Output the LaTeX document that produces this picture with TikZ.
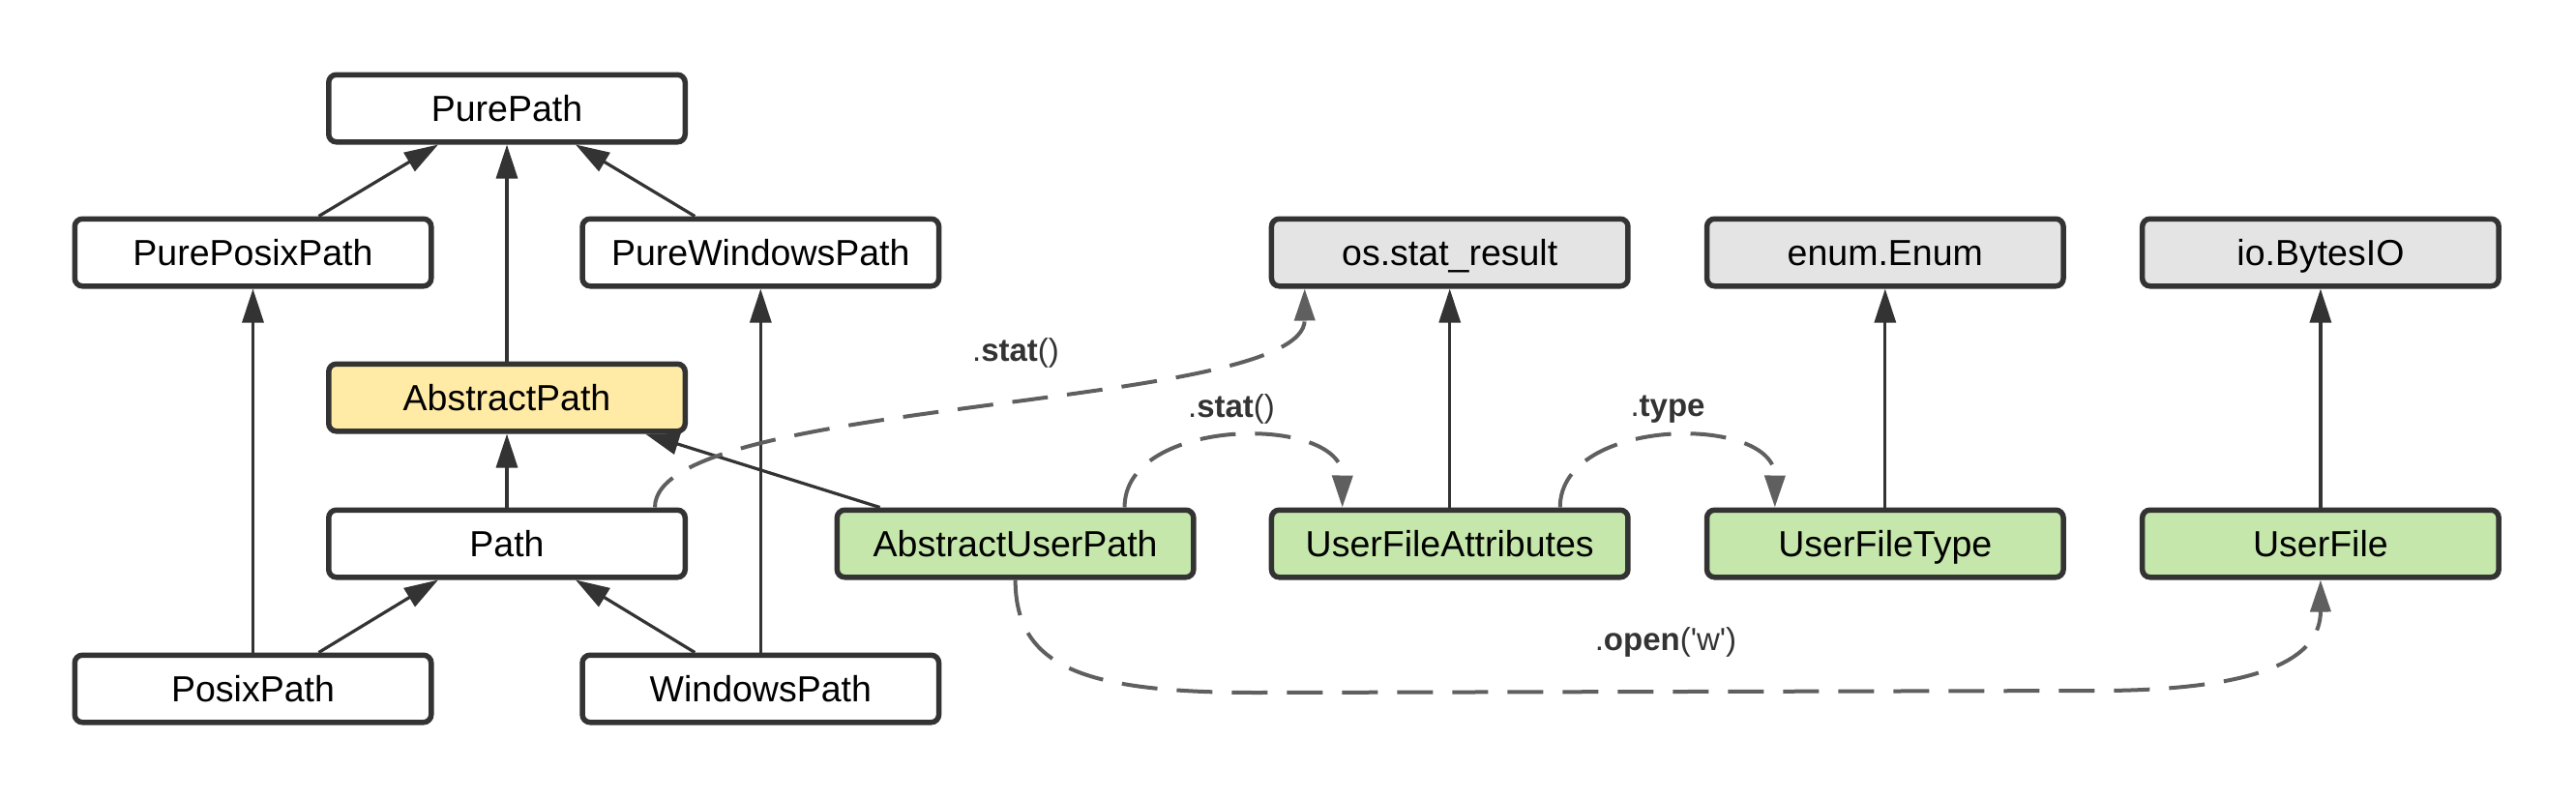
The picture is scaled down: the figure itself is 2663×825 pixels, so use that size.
\documentclass[tikz,border=0pt]{standalone}
\usepackage{fontspec}
\setmainfont{Liberation Sans}
\usetikzlibrary{arrows.meta}
\definecolor{strokec}{HTML}{333333}
\definecolor{absfill}{HTML}{FFEBA6}
\definecolor{userfill}{HTML}{C5E7AB}
\definecolor{extfill}{HTML}{E4E4E4}
\definecolor{dashc}{HTML}{5F5F5F}
\definecolor{labelc}{HTML}{333333}
\begin{document}
\begin{tikzpicture}[x=1pt,y=-1pt,
  box/.style={draw=strokec, line width=5.5pt, rounded corners=8pt,
    minimum width=368.5pt, minimum height=69.5pt, inner sep=0pt,
    text height=26.8pt, text depth=0pt,
    font=\fontsize{37.5}{44}\selectfont, text=black},
  plainbox/.style={box, fill=white},
  absbox/.style={box, fill=absfill},
  userbox/.style={box, fill=userfill},
  extbox/.style={box, fill=extfill},
  inh/.style={draw=strokec, line width=3.2pt, -{Triangle[length=35pt,width=22pt]}},
  uses/.style={draw=dashc, line width=4pt, dash pattern=on 37pt off 20pt,
    -{Triangle[length=33pt,width=21pt]}},
  lbl/.style={font=\fontsize{33}{39}\selectfont, text=labelc, inner sep=2pt}]

\useasboundingbox (0,0) rectangle (2663,825);

% nodes
\node[plainbox] (pp)   at (524,112)    {PurePath};
\node[plainbox] (ppp)  at (261.5,261)  {PurePosixPath};
\node[plainbox] (pwp)  at (786.3,261)  {PureWindowsPath};
\node[extbox]   (os)   at (1498.7,261) {os.stat\_result};
\node[extbox]   (en)   at (1948.8,261) {enum.Enum};
\node[extbox]   (bio)  at (2398.9,261) {io.BytesIO};
\node[absbox]   (ap)   at (524,411)    {AbstractPath};
\node[plainbox] (path) at (524,562)    {Path};
\node[userbox]  (aup)  at (1049.6,562) {AbstractUserPath};
\node[userbox]  (ufa)  at (1498.7,562) {UserFileAttributes};
\node[userbox]  (uft)  at (1948.8,562) {UserFileType};
\node[userbox]  (uf)   at (2398.9,562) {UserFile};
\node[plainbox] (px)   at (261.5,712)  {PosixPath};
\node[plainbox] (wp)   at (786.3,712)  {WindowsPath};

% inheritance
\draw[inh] ([xshift=68pt]ppp.north) -- ([xshift=-71pt]pp.south);
\draw[inh] ([xshift=-68pt]pwp.north) -- ([xshift=71pt]pp.south);
\draw[inh] (ap.north) -- (pp.south);
\draw[inh] (path.north) -- (ap.south);
\draw[inh] (px.north) -- (ppp.south);
\draw[inh] (wp.north) -- (pwp.south);
\draw[inh] ([xshift=68pt]px.north) -- ([xshift=-71pt]path.south);
\draw[inh] ([xshift=-68pt]wp.north) -- ([xshift=71pt]path.south);
\draw[inh] ([xshift=-140pt]aup.north) -- ([xshift=143pt]ap.south);
\draw[inh] (ufa.north) -- (os.south);
\draw[inh] (uft.north) -- (en.south);
\draw[inh] (uf.north) -- (bio.south);

% usage (dashed)
\draw[uses] ([xshift=153pt]path.north) .. controls (677,410) and (1349,425) .. ([xshift=-150pt]os.south);
\draw[uses] ([xshift=113pt]aup.north) .. controls (1162,430) and (1388,428) .. ([xshift=-111pt]ufa.north);
\draw[uses] ([xshift=114pt]ufa.north) .. controls (1613,430) and (1835,428) .. ([xshift=-114pt]uft.north);
\draw[uses] (aup.south) .. controls (1050,690) and (1120,716) .. (1300,716)
  -- (2180,714) .. controls (2340,712) and (2399,680) .. (uf.south);

% labels
\node[lbl] (l1) at (1050,365)  {.\textbf{stat}()};
\node[lbl] (l2) at (1273,423)  {.\textbf{stat}()};
\node[lbl] (l3) at (1724,423)  {.\textbf{type}};
\node[lbl] (l4) at (1722,664)  {.\textbf{open}(\textquotesingle w\textquotesingle)};
\end{tikzpicture}
\end{document}
